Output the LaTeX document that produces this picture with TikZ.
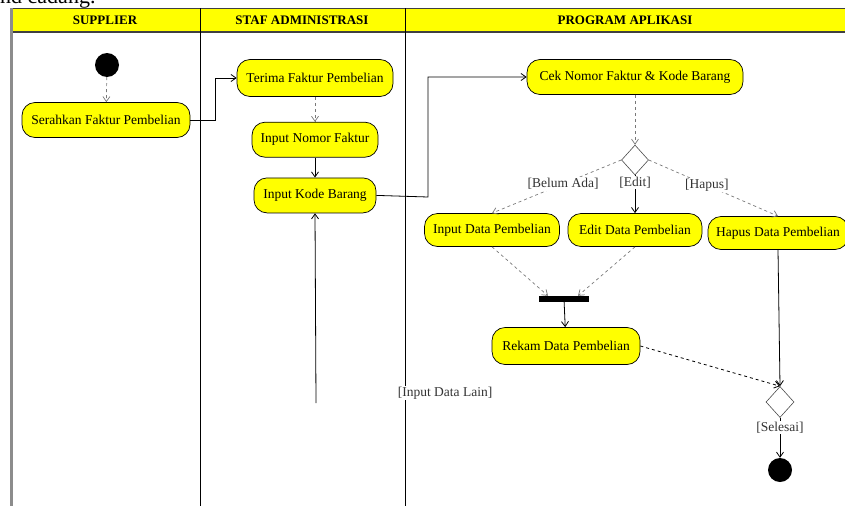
\documentclass[tikz,border=0pt]{standalone}
\usepackage{fontspec}
\setmainfont{Liberation Serif}
\usepackage{tikz}
\usetikzlibrary{positioning,arrows.meta,shapes.geometric,calc}
\definecolor{laneyellow}{RGB}{255,255,0}
\definecolor{flowgray}{RGB}{120,120,120}

\begin{document}
\begin{tikzpicture}[
  x=1pt, y=-1pt,
  font=\fontsize{13.5}{15}\selectfont, >={Straight Barb[length=5pt,width=7pt]},
  act/.style={draw=black, fill=laneyellow, rounded corners=13pt, align=center,
    minimum height=35pt, inner sep=2pt, line width=0.7pt},
  bullet/.style={circle, fill=black, minimum size=24pt, inner sep=0pt},
  choice/.style={diamond, draw=black!70, fill=white, minimum width=27pt, minimum height=30pt,
    inner sep=0pt, line width=0.6pt},
  lane/.style={line width=1pt, black},
  head/.style={font=\fontsize{13}{15}\selectfont\bfseries},
  flow/.style={->, black, line width=0.8pt},
  flowd/.style={->, flowgray, dashed, line width=0.7pt},
  guard/.style={fill=white, inner sep=1pt, text=black!80},
]
\useasboundingbox (0,0) rectangle (845,506);
% ---- surrounding page text (cut off) ----
\node[anchor=base west, inner sep=0pt, font=\fontsize{22}{24}\selectfont] (pagetxt) at (0,3) {nd cadang.};
% ---- swimlanes ----
\fill[laneyellow] (10,8) rectangle (845,32);
\draw[black!75, line width=1pt] (10,8) -- (845,8);
\draw[black!75, line width=1.2pt] (10,32) -- (845,32);
\draw[black!45, line width=3pt] (11,8) -- (11,506);
\draw[lane] (200,8) -- (200,506);
\draw[lane] (405,8) -- (405,506);
\node[head] (hsup) at (105,20) {SUPPLIER};
\node[head] (hstaf) at (302,20) {STAF ADMINISTRASI};
\node[head] (happ) at (625,20) {PROGRAM APLIKASI};
% ---- supplier ----
\node[bullet] (start) at (107,65) {};
\node[act, minimum width=168pt] (serah) at (106,120) {Serahkan Faktur Pembelian};
% ---- staf administrasi ----
\node[act, minimum width=156pt, minimum height=37pt] (terima) at (315,78) {Terima Faktur Pembelian};
\node[act, minimum width=126pt, below=25pt of terima] (inno) {Input Nomor Faktur};
\node[act, minimum width=122pt, below=20pt of inno] (inkode) {Input Kode Barang};
\coordinate (loopend) at (316,403);
\node[guard] (lain) at (445,393) {[Input Data Lain]};
% ---- program aplikasi ----
\node[act, minimum width=216pt] (cek) at (635,77) {Cek Nomor Faktur \& Kode Barang};
\node[choice] (pilih) at (635,160) {};
\node[act, minimum width=135pt, minimum height=33pt] (indata) at (492,230) {Input Data Pembelian};
\node[act, minimum width=134pt, minimum height=33pt] (edit) at (635,230) {Edit Data Pembelian};
\node[act, minimum width=140pt, minimum height=33pt] (hapus) at (778,233) {Hapus Data Pembelian};
\node[fill=black, minimum width=50pt, minimum height=6pt, inner sep=0pt] (join) at (564,299) {};
\node[act, minimum width=148pt, minimum height=37pt] (rekam) at (566,346) {Rekam Data Pembelian};
\node[choice, minimum width=28pt, minimum height=31pt] (gabung) at (780,402) {};
\node[bullet] (stop) at (780,470) {};
% ---- connectors ----
\draw[flowd] (start) -- (serah);
\draw[flow] (serah.east) -- (215,120) |- (terima.west);
\draw[flowd] (terima) -- (inno);
\draw[flow] (inno) -- (inkode);
\draw[flow] (loopend) -- (inkode.south);
\draw[flow] (inkode.east) -- (428,197) |- (cek.west);
\draw[flowd] (cek) -- (pilih);
\draw[flowd] (pilih.west) -- node[guard, pos=0.45] {[Belum Ada]} (indata.north);
\draw[flow] (pilih.south) -- node[guard, pos=0.2] {[Edit]} (edit.north);
\draw[flowd] (pilih.east) -- node[guard, pos=0.45] {[Hapus]} (hapus.north);
\draw[flowd] (indata.south) -- ($(join.north)+(-16,0)$);
\draw[flowd] (edit.south) -- ($(join.north)+(14,0)$);
\draw[flow] (join) -- (rekam);
\draw[->, black, dashed, line width=0.8pt] (rekam.east) -- (gabung.north);
\draw[flow] (hapus.south) -- (gabung.north);
\draw[flow] (gabung.south) -- node[guard, pos=0.25] {[Selesai]} (stop);
\end{tikzpicture}
\end{document}
